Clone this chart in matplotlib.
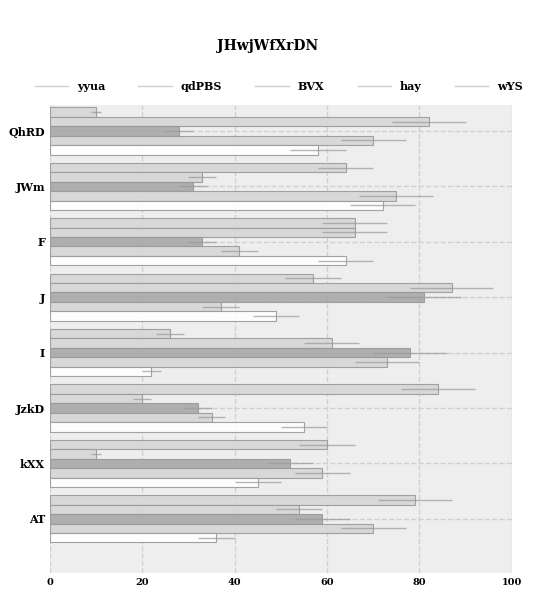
import numpy as np
import matplotlib
matplotlib.use('Agg')
import matplotlib.pyplot as plt

plt.rcParams['font.family'] = ['DejaVu Serif']
plt.rcParams['font.weight'] = 'bold'

categories = ['QhRD', 'JWm', 'F', 'J', 'I', 'JzkD', 'kXX', 'AT']
series = ['yyua', 'qdPBS', 'BVX', 'hay', 'wYS']
values = [
    [10, 64, 66, 57, 26, 84, 60, 79],
    [82, 33, 66, 87, 61, 20, 10, 54],
    [28, 31, 33, 81, 78, 32, 52, 59],
    [70, 75, 41, 37, 73, 35, 59, 70],
    [58, 72, 64, 49, 22, 55, 45, 36],
]
errors = [
    [1, 6, 7, 6, 3, 8, 6, 8],
    [8, 3, 7, 9, 6, 2, 1, 5],
    [3, 3, 3, 8, 8, 3, 5, 6],
    [7, 8, 4, 4, 7, 3, 6, 7],
    [6, 7, 6, 5, 2, 5, 5, 4],
]
colors = ['#d6d6d6', '#d6d6d6', '#a8a8a8', '#d6d6d6', '#ffffff']

fig = plt.figure(figsize=(5.36, 6.03), dpi=100)
ax = fig.add_axes([0.093, 0.05, 0.862, 0.776])
ax.set_facecolor('#eeeeee')

y = np.arange(len(categories))
h = 0.17
for i, name in enumerate(series):
    pos = y + (i - 2) * h
    ax.barh(pos, values[i], height=h, color=colors[i], edgecolor='#999999',
            linewidth=0.8, alpha=0.9, label=name, zorder=2)
    ax.errorbar(values[i], pos, xerr=errors[i], fmt='none', ecolor='#999999',
                elinewidth=1, alpha=0.7, zorder=3)

ax.set_xlim(0, 100)
ax.set_ylim(7.975, -0.47)
ax.set_yticks(y)
ax.set_yticklabels(categories, fontsize=8, fontweight='bold')
ax.set_xticks([0, 20, 40, 60, 80, 100])
ax.tick_params(axis='x', labelsize=7, length=0)
ax.tick_params(axis='y', length=0)
ax.grid(True, linestyle='--', color='#d0d0d0', linewidth=1, zorder=0)
ax.set_axisbelow(True)
for s in ax.spines.values():
    s.set_visible(False)

handles = [plt.Line2D([], [], color='#cccccc', linewidth=1) for _ in series]
fig.legend(handles, series, loc='center', bbox_to_anchor=(0.52, 0.857), ncol=5,
           frameon=False, fontsize=8, handlelength=3, columnspacing=3)
fig.suptitle('JHwjWfXrDN', y=0.935, fontsize=10, fontweight='bold')

fig.savefig('out.png', dpi=100)
